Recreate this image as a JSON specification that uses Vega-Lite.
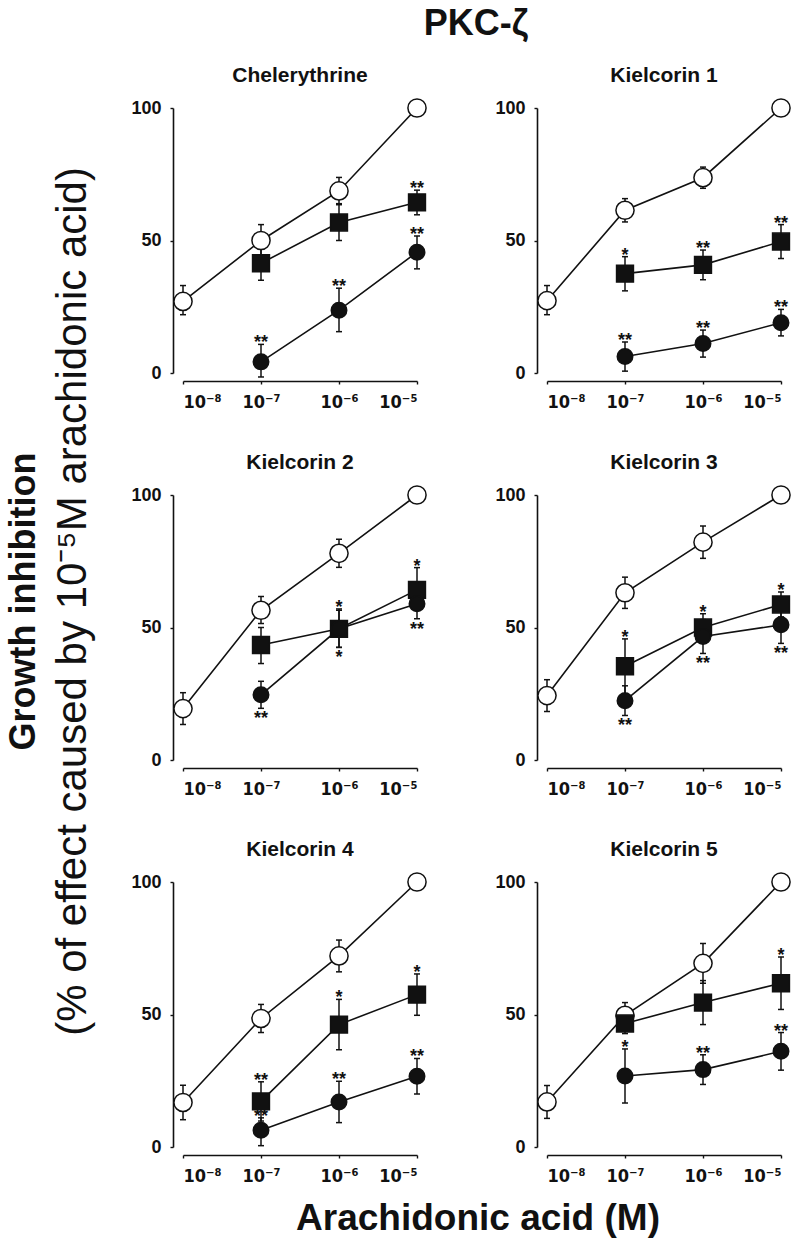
{
  "$schema": "https://vega.github.io/schema/vega-lite/v6.json",
  "background": "white",
  "padding": 5,
  "config": {
    "font": "Liberation Sans",
    "view": {"stroke": null},
    "axis": {"title": null, "grid": false, "domainColor": "#111", "domainWidth": 1.6, "tickColor": "#111", "tickWidth": 1.4, "tickSize": 3, "labelFont": "Liberation Sans", "labelFontSize": 18, "labelFontWeight": "bold", "labelColor": "#111"},
    "axisX": {"labelExpr": "datum.value == -8 ? '10⁻⁸' : datum.value == -7 ? '10⁻⁷' : datum.value == -6 ? '10⁻⁶' : '10⁻⁵'", "offset": 8, "labelPadding": 9, "labelFont": "DejaVu Sans Condensed", "labelFontSize": 18},
    "axisY": {"offset": 10, "labelPadding": 9},
    "title": {"font": "Liberation Sans", "color": "#111", "fontWeight": "bold", "subtitleFont": "Liberation Sans", "subtitleColor": "#111"}
  },
  "title": {"text": "Growth inhibition", "subtitle": "(% of effect caused by 10⁻⁵M arachidonic acid)", "orient": "left", "anchor": "middle", "fontSize": 36, "subtitleFontSize": 42, "subtitleFontWeight": "normal", "subtitlePadding": 10, "offset": 36, "dx": 20},
  "vconcat": [
    {
      "title": {"text": "PKC-ζ", "fontSize": 36, "anchor": "middle", "offset": 22, "dx": 14},
      "vconcat": [
        {
          "title": {"text": "Arachidonic acid (M)", "orient": "bottom", "fontSize": 37, "anchor": "middle", "offset": 16, "dx": 16},
          "vconcat": [
            {
              "data": {"values": [
                {"panel": "Chelerythrine", "series": "control", "x": -8, "y": 27, "lo": 22, "hi": 33, "sig": "", "pos": ""},
                {"panel": "Chelerythrine", "series": "control", "x": -7, "y": 50, "lo": 44, "hi": 56, "sig": "", "pos": ""},
                {"panel": "Chelerythrine", "series": "control", "x": -6, "y": 68.7, "lo": 63.5, "hi": 73.8, "sig": "", "pos": ""},
                {"panel": "Chelerythrine", "series": "control", "x": -5, "y": 100, "lo": null, "hi": null, "sig": "", "pos": ""},
                {"panel": "Chelerythrine", "series": "square", "x": -7, "y": 41.4, "lo": 35, "hi": 48.4, "sig": "", "pos": ""},
                {"panel": "Chelerythrine", "series": "square", "x": -6, "y": 56.8, "lo": 50, "hi": 63.9, "sig": "", "pos": ""},
                {"panel": "Chelerythrine", "series": "square", "x": -5, "y": 64.4, "lo": 59.7, "hi": 69, "sig": "**", "pos": "above"},
                {"panel": "Chelerythrine", "series": "filled", "x": -7, "y": 4.2, "lo": -1.5, "hi": 10.8, "sig": "**", "pos": "above"},
                {"panel": "Chelerythrine", "series": "filled", "x": -6, "y": 23.7, "lo": 15.6, "hi": 32, "sig": "**", "pos": "above"},
                {"panel": "Chelerythrine", "series": "filled", "x": -5, "y": 45.6, "lo": 39.3, "hi": 51.7, "sig": "**", "pos": "above"},

                {"panel": "Kielcorin 1", "series": "control", "x": -8, "y": 27.3, "lo": 22, "hi": 33, "sig": "", "pos": ""},
                {"panel": "Kielcorin 1", "series": "control", "x": -7, "y": 61.4, "lo": 57, "hi": 65.8, "sig": "", "pos": ""},
                {"panel": "Kielcorin 1", "series": "control", "x": -6, "y": 73.7, "lo": 69.7, "hi": 77.7, "sig": "", "pos": ""},
                {"panel": "Kielcorin 1", "series": "control", "x": -5, "y": 100, "lo": null, "hi": null, "sig": "", "pos": ""},
                {"panel": "Kielcorin 1", "series": "square", "x": -7, "y": 37.5, "lo": 31, "hi": 43.9, "sig": "*", "pos": "above"},
                {"panel": "Kielcorin 1", "series": "square", "x": -6, "y": 40.8, "lo": 35.2, "hi": 46.4, "sig": "**", "pos": "above"},
                {"panel": "Kielcorin 1", "series": "square", "x": -5, "y": 49.6, "lo": 43.2, "hi": 56, "sig": "**", "pos": "above"},
                {"panel": "Kielcorin 1", "series": "filled", "x": -7, "y": 6.2, "lo": 0.7, "hi": 11.7, "sig": "**", "pos": "above"},
                {"panel": "Kielcorin 1", "series": "filled", "x": -6, "y": 11.1, "lo": 6, "hi": 16.2, "sig": "**", "pos": "above"},
                {"panel": "Kielcorin 1", "series": "filled", "x": -5, "y": 19, "lo": 14, "hi": 24, "sig": "**", "pos": "above"},

                {"panel": "Kielcorin 2", "series": "control", "x": -8, "y": 19.4, "lo": 13.4, "hi": 25.4, "sig": "", "pos": ""},
                {"panel": "Kielcorin 2", "series": "control", "x": -7, "y": 56.5, "lo": 51.5, "hi": 61.7, "sig": "", "pos": ""},
                {"panel": "Kielcorin 2", "series": "control", "x": -6, "y": 78, "lo": 72.7, "hi": 83.3, "sig": "", "pos": ""},
                {"panel": "Kielcorin 2", "series": "control", "x": -5, "y": 100, "lo": null, "hi": null, "sig": "", "pos": ""},
                {"panel": "Kielcorin 2", "series": "square", "x": -7, "y": 43.4, "lo": 36.4, "hi": 50, "sig": "", "pos": ""},
                {"panel": "Kielcorin 2", "series": "square", "x": -6, "y": 49.5, "lo": 42.5, "hi": 57, "sig": "*", "pos": "above"},
                {"panel": "Kielcorin 2", "series": "square", "x": -5, "y": 64.2, "lo": 58, "hi": 72.6, "sig": "*", "pos": "above"},
                {"panel": "Kielcorin 2", "series": "filled", "x": -7, "y": 24.6, "lo": 19.5, "hi": 29.7, "sig": "**", "pos": "below"},
                {"panel": "Kielcorin 2", "series": "filled", "x": -6, "y": 49.5, "lo": 42.5, "hi": 56.5, "sig": "*", "pos": "below"},
                {"panel": "Kielcorin 2", "series": "filled", "x": -5, "y": 59, "lo": 53.3, "hi": 64.7, "sig": "**", "pos": "below"},

                {"panel": "Kielcorin 3", "series": "control", "x": -8, "y": 24.3, "lo": 18.3, "hi": 30.3, "sig": "", "pos": ""},
                {"panel": "Kielcorin 3", "series": "control", "x": -7, "y": 63.1, "lo": 57.2, "hi": 69, "sig": "", "pos": ""},
                {"panel": "Kielcorin 3", "series": "control", "x": -6, "y": 82.2, "lo": 76.1, "hi": 88.3, "sig": "", "pos": ""},
                {"panel": "Kielcorin 3", "series": "control", "x": -5, "y": 100, "lo": null, "hi": null, "sig": "", "pos": ""},
                {"panel": "Kielcorin 3", "series": "square", "x": -7, "y": 35.4, "lo": 25.1, "hi": 45.7, "sig": "*", "pos": "above"},
                {"panel": "Kielcorin 3", "series": "square", "x": -6, "y": 50, "lo": 44.8, "hi": 55.2, "sig": "*", "pos": "above"},
                {"panel": "Kielcorin 3", "series": "square", "x": -5, "y": 58.7, "lo": 54, "hi": 63.4, "sig": "*", "pos": "above"},
                {"panel": "Kielcorin 3", "series": "filled", "x": -7, "y": 22.4, "lo": 16.8, "hi": 28, "sig": "**", "pos": "below"},
                {"panel": "Kielcorin 3", "series": "filled", "x": -6, "y": 46.6, "lo": 40.2, "hi": 53, "sig": "**", "pos": "below"},
                {"panel": "Kielcorin 3", "series": "filled", "x": -5, "y": 51, "lo": 44, "hi": 58, "sig": "**", "pos": "below"},

                {"panel": "Kielcorin 4", "series": "control", "x": -8, "y": 16.8, "lo": 10.3, "hi": 23.3, "sig": "", "pos": ""},
                {"panel": "Kielcorin 4", "series": "control", "x": -7, "y": 48.5, "lo": 43.2, "hi": 53.8, "sig": "", "pos": ""},
                {"panel": "Kielcorin 4", "series": "control", "x": -6, "y": 72.1, "lo": 66.1, "hi": 78.1, "sig": "", "pos": ""},
                {"panel": "Kielcorin 4", "series": "control", "x": -5, "y": 100, "lo": null, "hi": null, "sig": "", "pos": ""},
                {"panel": "Kielcorin 4", "series": "square", "x": -7, "y": 17.2, "lo": 9.8, "hi": 24.6, "sig": "**", "pos": "above"},
                {"panel": "Kielcorin 4", "series": "square", "x": -6, "y": 46.2, "lo": 36.7, "hi": 55.7, "sig": "*", "pos": "above"},
                {"panel": "Kielcorin 4", "series": "square", "x": -5, "y": 57.5, "lo": 49.7, "hi": 65.3, "sig": "*", "pos": "above"},
                {"panel": "Kielcorin 4", "series": "filled", "x": -7, "y": 6.3, "lo": 0.5, "hi": 11, "sig": "**", "pos": "above"},
                {"panel": "Kielcorin 4", "series": "filled", "x": -6, "y": 17, "lo": 9.2, "hi": 24.8, "sig": "**", "pos": "above"},
                {"panel": "Kielcorin 4", "series": "filled", "x": -5, "y": 26.7, "lo": 20, "hi": 33.4, "sig": "**", "pos": "above"},

                {"panel": "Kielcorin 5", "series": "control", "x": -8, "y": 17, "lo": 10.8, "hi": 23.2, "sig": "", "pos": ""},
                {"panel": "Kielcorin 5", "series": "control", "x": -7, "y": 49.7, "lo": 44.9, "hi": 54.5, "sig": "", "pos": ""},
                {"panel": "Kielcorin 5", "series": "control", "x": -6, "y": 69.3, "lo": 61.8, "hi": 76.8, "sig": "", "pos": ""},
                {"panel": "Kielcorin 5", "series": "control", "x": -5, "y": 100, "lo": null, "hi": null, "sig": "", "pos": ""},
                {"panel": "Kielcorin 5", "series": "square", "x": -7, "y": 46.6, "lo": 42.8, "hi": 50.4, "sig": "", "pos": ""},
                {"panel": "Kielcorin 5", "series": "square", "x": -6, "y": 54.5, "lo": 46.2, "hi": 62.8, "sig": "", "pos": ""},
                {"panel": "Kielcorin 5", "series": "square", "x": -5, "y": 61.8, "lo": 51.9, "hi": 71.7, "sig": "*", "pos": "above"},
                {"panel": "Kielcorin 5", "series": "filled", "x": -7, "y": 26.8, "lo": 16.6, "hi": 37, "sig": "*", "pos": "above"},
                {"panel": "Kielcorin 5", "series": "filled", "x": -6, "y": 29.2, "lo": 23.6, "hi": 34.8, "sig": "**", "pos": "above"},
                {"panel": "Kielcorin 5", "series": "filled", "x": -5, "y": 36.1, "lo": 29, "hi": 43.2, "sig": "**", "pos": "above"}
              ]},
              "facet": {"field": "panel", "type": "nominal", "sort": ["Chelerythrine", "Kielcorin 1", "Kielcorin 2", "Kielcorin 3", "Kielcorin 4", "Kielcorin 5"], "header": {"title": null, "labelFont": "Liberation Sans", "labelFontSize": 21, "labelFontWeight": "bold", "labelColor": "#111", "labelPadding": 10}},
              "columns": 2,
              "spacing": {"row": 122, "column": 130},
              "bounds": "flush",
              "resolve": {"axis": {"x": "independent", "y": "independent"}},
              "spec": {
                "width": 234,
                "height": 265,
                "encoding": {"x": {"field": "x", "type": "quantitative", "scale": {"domain": [-8, -5], "nice": false}, "axis": {"values": [-8, -7, -6, -5]}}},
                "layer": [
                  {"mark": {"type": "rule", "stroke": "#111", "strokeWidth": 1.5}, "encoding": {"y": {"field": "lo", "type": "quantitative", "scale": {"domain": [0, 100], "nice": false}, "axis": {"values": [0, 50, 100]}}, "y2": {"field": "hi"}}},
                  {"mark": {"type": "tick", "orient": "horizontal", "size": 6, "thickness": 1.5, "color": "#111", "opacity": 1}, "encoding": {"y": {"field": "hi", "type": "quantitative", "scale": {"domain": [0, 100], "nice": false}, "axis": {"values": [0, 50, 100]}}}},
                  {"mark": {"type": "tick", "orient": "horizontal", "size": 6, "thickness": 1.5, "color": "#111", "opacity": 1}, "encoding": {"y": {"field": "lo", "type": "quantitative", "scale": {"domain": [0, 100], "nice": false}, "axis": {"values": [0, 50, 100]}}}},
                  {"mark": {"type": "line", "stroke": "#111", "strokeWidth": 1.6}, "encoding": {"y": {"field": "y", "type": "quantitative", "scale": {"domain": [0, 100], "nice": false}, "axis": {"values": [0, 50, 100]}}, "detail": {"field": "series"}}},
                  {"mark": {"type": "point", "filled": true, "stroke": "#111", "strokeWidth": 1.5, "opacity": 1},
                   "encoding": {
                     "y": {"field": "y", "type": "quantitative", "scale": {"domain": [0, 100], "nice": false}, "axis": {"values": [0, 50, 100]}},
                     "shape": {"field": "series", "type": "nominal", "scale": {"domain": ["control", "square", "filled"], "range": ["circle", "square", "circle"]}, "legend": null},
                     "fill": {"field": "series", "type": "nominal", "scale": {"domain": ["control", "square", "filled"], "range": ["#ffffff", "#111111", "#111111"]}, "legend": null},
                     "size": {"field": "series", "type": "nominal", "scale": {"domain": ["control", "square", "filled"], "range": [330, 240, 330]}, "legend": null}
                   }},
                  {"transform": [{"filter": "datum.pos == 'above'"}], "mark": {"type": "text", "font": "Liberation Sans", "fontSize": 18, "fontWeight": "bold", "color": "#111", "baseline": "alphabetic", "dy": 4}, "encoding": {"y": {"field": "hi", "type": "quantitative", "scale": {"domain": [0, 100], "nice": false}, "axis": {"values": [0, 50, 100]}}, "text": {"field": "sig"}}},
                  {"transform": [{"filter": "datum.pos == 'below'"}], "mark": {"type": "text", "font": "Liberation Sans", "fontSize": 18, "fontWeight": "bold", "color": "#111", "baseline": "top", "dy": 2}, "encoding": {"y": {"field": "lo", "type": "quantitative", "scale": {"domain": [0, 100], "nice": false}, "axis": {"values": [0, 50, 100]}}, "text": {"field": "sig"}}}
                ]
              }
            }
          ]
        }
      ]
    }
  ]
}
